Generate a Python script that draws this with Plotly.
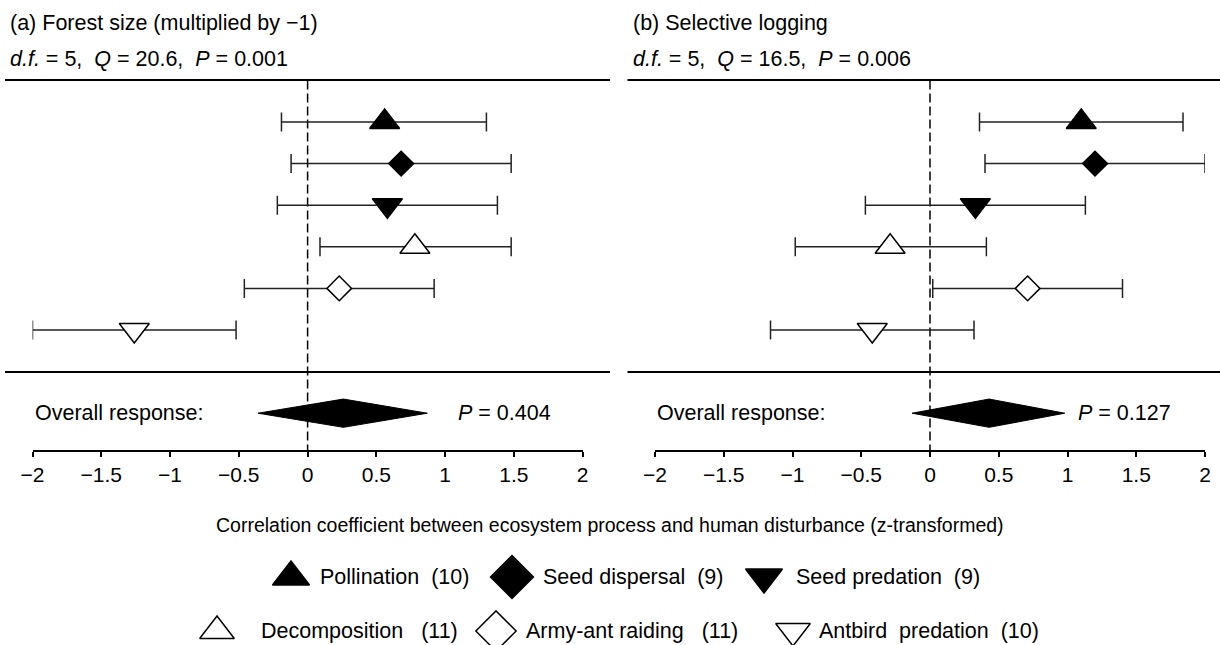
import plotly.graph_objects as go

# ---------------- data ----------------
CATEGORIES = ["Pollination", "Seed dispersal", "Seed predation",
              "Decomposition", "Army-ant raiding", "Antbird predation"]
N_STUDIES = [10, 9, 9, 11, 11, 10]

# (a) Forest size (multiplied by -1)
A_EST = [0.56, 0.68, 0.58, 0.78, 0.23, -1.26]
A_LO = [-0.19, -0.12, -0.22, 0.09, -0.46, -2.00]
A_HI = [1.30, 1.48, 1.38, 1.48, 0.92, -0.52]
A_OVERALL = [-0.36, 0.26, 0.87]   # lo, est, hi
A_STATS = {"df": 5, "Q": "20.6", "P": "0.001", "P_overall": "0.404"}

# (b) Selective logging
B_EST = [1.10, 1.20, 0.33, -0.29, 0.71, -0.42]
B_LO = [0.36, 0.40, -0.47, -0.98, 0.02, -1.16]
B_HI = [1.84, 2.00, 1.13, 0.41, 1.40, 0.32]
B_OVERALL = [-0.13, 0.43, 0.98]
B_STATS = {"df": 5, "Q": "16.5", "P": "0.006", "P_overall": "0.127"}

TICK_VALUES = [-2, -1.5, -1, -0.5, 0, 0.5, 1, 1.5, 2]
TICK_LABELS = ["\u22122", "\u22121.5", "\u22121", "\u22120.5", "0", "0.5", "1", "1.5", "2"]

PANEL_TITLES = ["(a) Forest size (multiplied by \u22121)", "(b) Selective logging"]
X_TITLE = "Correlation coefficient between ecosystem process and human disturbance (z-transformed)"
LEGEND_TEXTS = ["Pollination  (10)", "Seed dispersal  (9)", "Seed predation  (9)",
                "Decomposition   (11)", "Army-ant raiding   (11)", "Antbird  predation  (10)"]

# ---------------- style ----------------
FONT = "Liberation Sans, Arial, Helvetica, sans-serif"
FS_TITLE = 21.5
FS_TEXT = 21.5
FS_TICK = 21
FS_XTITLE = 19.5
FS_LEG = 21.5
W, H = 1220, 645
SYMBOLS = ["triangle-up", "diamond", "triangle-down", "triangle-up", "diamond", "triangle-down"]
FILLS = ["black", "black", "black", "white", "white", "white"]
PLOT_SIZES = [26, 19, 26, 26, 19, 26]
LEG_SIZES = [32, 33, 32, 30, 31, 30]
OVERALL_ROW = 7
OVERALL_HALF = 0.34
Y_TOP, Y_AXIS = -1.0, 7.885
ROW_PX0, ROW_STEP = 122.0, 41.6

def px_to_paper_y(p):
    return 1 - p / H

# axis domains (pixels)
DOM_A = [32.5 / W, 582.7 / W]
DOM_B = [655 / W, 1205 / W]
Y_DOM = [px_to_paper_y(ROW_PX0 + ROW_STEP * Y_AXIS), px_to_paper_y(ROW_PX0 + ROW_STEP * Y_TOP)]

fig = go.Figure()
rows = list(range(len(CATEGORIES)))

panels = [
    ("x", "y", A_EST, A_LO, A_HI, A_OVERALL, A_STATS),
    ("x2", "y2", B_EST, B_LO, B_HI, B_OVERALL, B_STATS),
]

for xa, ya, est, lo, hi, ov, st in panels:
    for i in rows:
        fig.add_trace(go.Scatter(
            x=[est[i]], y=[rows[i]], xaxis=xa, yaxis=ya, mode="markers",
            name=CATEGORIES[i], showlegend=False,
            marker=dict(symbol=SYMBOLS[i], size=PLOT_SIZES[i], color=FILLS[i],
                        line=dict(color="black", width=1.5)),
            error_x=dict(type="data", symmetric=False,
                         array=[hi[i] - est[i]], arrayminus=[est[i] - lo[i]],
                         color="#222222", thickness=1.5, width=9.5),
            hoverinfo="skip"))
    # overall response diamond
    fig.add_trace(go.Scatter(
        x=[ov[0], ov[1], ov[2], ov[1], ov[0]],
        y=[OVERALL_ROW, OVERALL_ROW - OVERALL_HALF, OVERALL_ROW,
           OVERALL_ROW + OVERALL_HALF, OVERALL_ROW],
        xaxis=xa, yaxis=ya, mode="lines", fill="toself",
        fillcolor="black", line=dict(color="black", width=1),
        showlegend=False, hoverinfo="skip"))

axis_common = dict(range=[-2, 2], tickmode="array", tickvals=TICK_VALUES, ticktext=TICK_LABELS,
                   showline=True, linecolor="black", linewidth=1.5, ticks="outside",
                   ticklen=5, tickwidth=1.5, tickcolor="black", showgrid=False, zeroline=False,
                   automargin=False,
                   tickfont=dict(family=FONT, size=FS_TICK, color="black"), fixedrange=True)
yaxis_common = dict(range=[Y_AXIS, Y_TOP], domain=Y_DOM, visible=False, fixedrange=True,
                    automargin=False)

fig.update_layout(
    template="none",
    width=W, height=H, autosize=False,
    margin=dict(l=0, r=0, t=0, b=0, pad=0, autoexpand=False),
    paper_bgcolor="white", plot_bgcolor="rgba(0,0,0,0)",
    font=dict(family=FONT, size=FS_TEXT, color="black"),
    showlegend=False,
    xaxis=dict(domain=DOM_A, anchor="y", **axis_common),
    yaxis=dict(anchor="x", **yaxis_common),
    xaxis2=dict(domain=DOM_B, anchor="y2", **axis_common),
    yaxis2=dict(anchor="x2", **yaxis_common),
    xaxis3=dict(domain=[0, 1], range=[0, W], visible=False, fixedrange=True, anchor="y3",
                automargin=False),
    yaxis3=dict(domain=[0, 1], range=[H, 0], visible=False, fixedrange=True, anchor="x3",
                automargin=False),
)

shapes = []
annotations = []
panel_line_px = [[5, 610], [627.5, 1220]]
rule_px = [80, 372]
title_x_px = [8, 631]
p_x = [1.08, 1.06]
for k, (xa, ya, est, lo, hi, ov, st) in enumerate(panels):
    l, r = panel_line_px[k]
    for yp in rule_px:
        shapes.append(dict(type="line", xref="paper", yref="paper", x0=l / W, x1=r / W,
                           y0=px_to_paper_y(yp), y1=px_to_paper_y(yp),
                           line=dict(color="black", width=2)))
    shapes.append(dict(type="line", xref=xa, yref=ya, x0=0, x1=0, y0=Y_TOP, y1=Y_AXIS,
                       line=dict(color="black", width=1.5, dash="9px,4px"), layer="below"))
    annotations.append(dict(text=PANEL_TITLES[k], xref="paper", yref="paper",
                            x=title_x_px[k] / W, y=px_to_paper_y(23), xanchor="left",
                            yanchor="middle", showarrow=False, font=dict(size=FS_TITLE)))
    sub = (f"<i>d.f.</i> = {st['df']},  <i>Q</i> = {st['Q']},  <i>P</i> = {st['P']}")
    annotations.append(dict(text=sub, xref="paper", yref="paper",
                            x=title_x_px[k] / W, y=px_to_paper_y(59), xanchor="left",
                            yanchor="middle", showarrow=False, font=dict(size=FS_TITLE)))
    annotations.append(dict(text="Overall response:", xref=xa, yref=ya, x=-2, y=OVERALL_ROW,
                            xanchor="left", yanchor="middle", showarrow=False,
                            font=dict(size=FS_TEXT)))
    annotations.append(dict(text=f"<i>P</i> = {st['P_overall']}", xref=xa, yref=ya,
                            x=p_x[k], y=OVERALL_ROW, xanchor="left", yanchor="middle",
                            showarrow=False, font=dict(size=FS_TEXT)))

annotations.append(dict(text=X_TITLE, xref="paper", yref="paper", x=0.5,
                        y=px_to_paper_y(525), xanchor="center", yanchor="middle",
                        showarrow=False, font=dict(size=FS_XTITLE)))

# custom legend (layout positions in pixels)
LEG_MARKER_X = [291, 512, 764, 217, 496, 793]
LEG_TEXT_X = [318, 541, 794, 259, 524, 817]
LEG_ROW_Y = [577, 631]
for i in rows:
    yy = LEG_ROW_Y[i // 3]
    fig.add_trace(go.Scatter(
        x=[LEG_MARKER_X[i]], y=[yy], xaxis="x3", yaxis="y3", mode="markers",
        marker=dict(symbol=SYMBOLS[i], size=LEG_SIZES[i], color=FILLS[i],
                    line=dict(color="black", width=1.5)),
        showlegend=False, hoverinfo="skip"))
    annotations.append(dict(text=LEGEND_TEXTS[i], xref="x3", yref="y3", x=LEG_TEXT_X[i], y=yy,
                            xanchor="left", yanchor="middle", showarrow=False,
                            font=dict(size=FS_LEG)))

fig.update_layout(shapes=shapes, annotations=annotations)

fig.write_html("out.html", config={"displayModeBar": False, "responsive": False},
               post_script="document.body.style.margin='0';document.body.style.overflow='hidden';")
